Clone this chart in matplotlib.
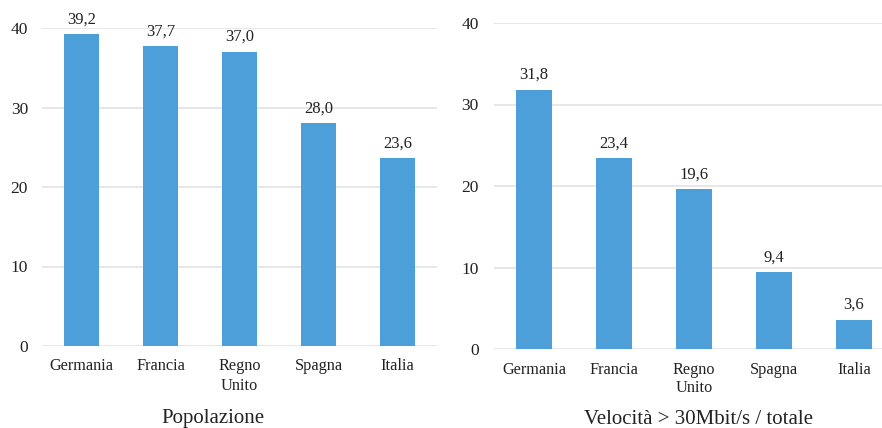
import matplotlib
matplotlib.use("Agg")
import matplotlib.pyplot as plt

categories = ["Germania", "Francia", "Regno\nUnito", "Spagna", "Italia"]
pop_values = [39.2, 37.7, 37.0, 28.0, 23.6]
speed_values = [31.8, 23.4, 19.6, 9.4, 3.6]
yticks = [0, 10, 20, 30, 40]
title_left = "Popolazione"
title_right = "Velocità > 30Mbit/s / totale"

plt.rcParams['font.family'] = ['Liberation Serif', 'DejaVu Serif']
BAR = "#4C9FD8"
TXT = "#222222"
GRID = "#E3E3E3"

fig = plt.figure(figsize=(8.82, 4.28), dpi=100)

def fmt(v):
    return f"{v:.1f}".replace(".", ",")

def draw(ax, vals, ypad):
    x = range(len(categories))
    ax.bar(x, vals, width=0.44, color=BAR, zorder=3)
    ax.set_ylim(0, 40)
    ax.set_xlim(-0.5, 4.5)
    ax.set_yticks(yticks)
    ax.set_xticks(list(x))
    ax.set_xticklabels(categories, fontsize=11.7, color=TXT, linespacing=1.25)
    ax.tick_params(axis='y', length=0, pad=ypad, labelsize=12.5, labelcolor=TXT)
    ax.tick_params(axis='x', length=0, pad=9)
    ax.grid(axis='y', color=GRID, linewidth=1.2, zorder=0)
    for s in ax.spines.values():
        s.set_visible(False)
    for i, v in enumerate(vals):
        ax.annotate(fmt(v), (i, v), xytext=(0, 5), textcoords="offset points",
                    ha="center", va="bottom", fontsize=12, color=TXT, clip_on=False)

ax1 = fig.add_axes([42/882, 82/428, 395/882, 318/428])
draw(ax1, pop_values, 10)
ax2 = fig.add_axes([494/882, 79/428, 400/882, 326/428])
draw(ax2, speed_values, 11)

fig.text(213/882, 1 - 419/428, title_left, ha="center", va="center", fontsize=15, color=TXT)
fig.text(698/882, 1 - 419/428, title_right, ha="center", va="center", fontsize=15, color=TXT)

fig.savefig("out.png", dpi=100)
